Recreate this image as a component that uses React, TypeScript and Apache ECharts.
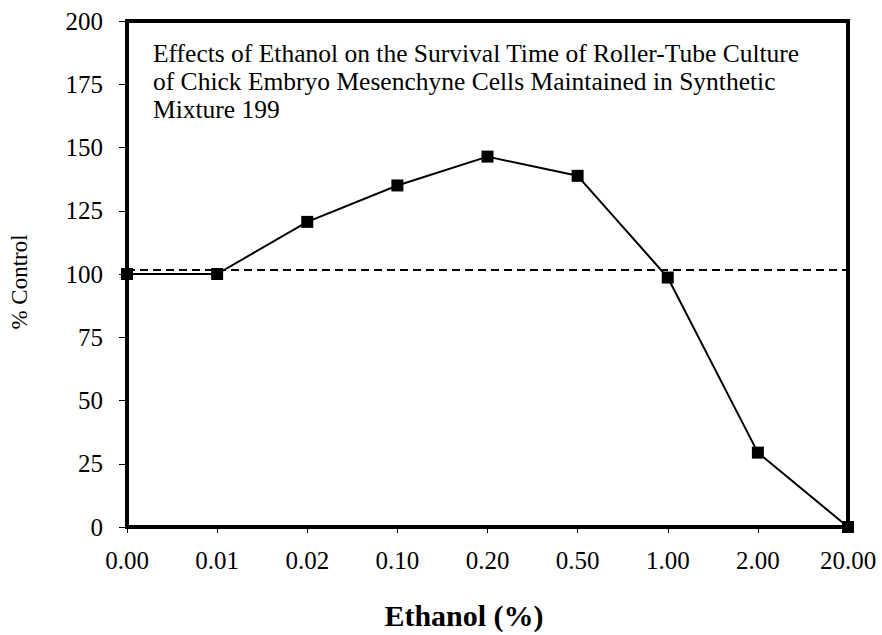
import React, { useEffect, useRef } from "react";
import * as echarts from "echarts";

const categories = ["0.00", "0.01", "0.02", "0.10", "0.20", "0.50", "1.00", "2.00", "20.00"];
const controlValues = [100, 100, 120.6, 135, 146.4, 138.8, 98.6, 29.4, 0];
const referenceLevel = 101.5;
const yTicks = { min: 0, max: 200, interval: 25 };
const titleLines = [
  "Effects of Ethanol on the Survival Time of Roller-Tube Culture",
  "of Chick Embryo Mesenchyne Cells Maintained in Synthetic",
  "Mixture 199",
];

const FONT = "'Times New Roman', 'Liberation Serif', serif";

export default function App() {
  const ref = useRef<HTMLDivElement>(null);
  useEffect(() => {
    if (!ref.current) return;
    const chart = echarts.init(ref.current, null, { renderer: "svg" });
    chart.setOption({
      animation: false,
      backgroundColor: "#fff",
      textStyle: { fontFamily: FONT, color: "#000" },
      grid: {
        left: 125,
        right: 34,
        top: 21,
        bottom: 102,
        show: true,
        borderColor: "#000",
        borderWidth: 4,
        containLabel: false,
      },
      title: {
        text: titleLines.join("\n"),
        left: 153,
        top: 39,
        padding: 0,
        textStyle: {
          fontFamily: FONT,
          fontSize: 25.5,
          fontWeight: "normal",
          lineHeight: 28,
          color: "#000",
        },
      },
      xAxis: {
        type: "category",
        data: categories,
        boundaryGap: false,
        axisLine: { show: false },
        axisTick: { show: true, inside: false, length: 6, lineStyle: { color: "#000", width: 1 } },
        axisLabel: { fontSize: 25, color: "#000", margin: 21, fontFamily: FONT },
        splitLine: { show: false },
        name: "Ethanol (%)",
        nameLocation: "middle",
        nameGap: 73,
        nameTextStyle: {
          fontSize: 30,
          fontWeight: "bold",
          color: "#000",
          fontFamily: FONT,
          padding: [0, 47, 0, 0],
        },
      },
      yAxis: {
        type: "value",
        min: yTicks.min,
        max: yTicks.max,
        interval: yTicks.interval,
        axisLine: { show: false },
        axisTick: { show: true, inside: false, length: 8, lineStyle: { color: "#000", width: 1 } },
        axisLabel: { fontSize: 25, color: "#000", margin: 24, fontFamily: FONT },
        splitLine: { show: false },
        name: "% Control",
        nameLocation: "middle",
        nameGap: 96,
        nameTextStyle: {
          fontSize: 23,
          color: "#000",
          fontFamily: FONT,
          padding: [0, 16, 0, 0],
        },
      },
      series: [
        {
          type: "line",
          data: controlValues,
          symbol: "rect",
          symbolSize: 12,
          lineStyle: { color: "#000", width: 2 },
          itemStyle: { color: "#000" },
          z: 3,
          markLine: {
            silent: true,
            symbol: "none",
            label: { show: false },
            lineStyle: { color: "#000", width: 2, type: [8, 5] },
            data: [{ yAxis: referenceLevel }],
          },
        },
      ],
    });
    return () => chart.dispose();
  }, []);
  return <div ref={ref} style={{ width: 882, height: 635, position: "absolute", left: 0, top: 0 }} />;
}
